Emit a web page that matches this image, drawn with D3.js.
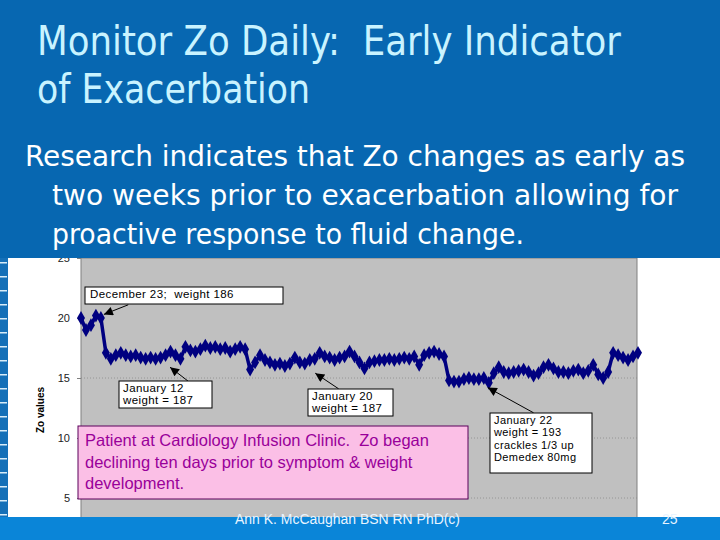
<!DOCTYPE html>
<html>
<head>
<meta charset="utf-8">
<script src="https://cdn.jsdelivr.net/npm/d3@7"></script>
<style>
  body { margin: 0; background: #fff; }
  svg { display: block; }
  text { white-space: pre; }
</style>
</head>
<body>
<svg id="chart" width="720" height="540"></svg>
<script>
// Zo readings, one per plotted sample
const zoValues = [
  20.0, 19.0, 19.4, 20.2, 20.0, 17.1, 16.6, 16.9, 17.1, 16.9,
  16.8, 16.9, 16.7, 16.6, 16.7, 16.6, 16.7, 16.9, 17.2, 16.9,
  16.6, 17.6, 17.3, 17.2, 17.4, 17.7, 17.5, 17.6, 17.4, 17.5,
  17.2, 17.4, 17.6, 17.4, 15.7, 16.3, 16.9, 16.5, 16.3, 16.1,
  16.2, 16.0, 16.2, 16.7, 16.3, 16.2, 16.5, 16.6, 17.1, 16.8,
  16.7, 16.5, 16.7, 16.8, 17.2, 16.8, 16.3, 15.8, 16.3, 16.4,
  16.5, 16.5, 16.6, 16.5, 16.6, 16.7, 16.6, 16.8, 16.1, 16.9,
  17.1, 17.2, 17.0, 16.8, 14.8, 14.7, 14.7, 14.9, 15.0, 14.9,
  14.9, 15.0, 14.6, 15.4, 15.9, 15.5, 15.4, 15.5, 15.6, 15.7,
  15.5, 15.2, 15.4, 15.9, 16.1, 15.8, 15.5, 15.5, 15.4, 15.6,
  15.7, 15.4, 15.6, 16.1, 15.3, 15.0, 15.5, 17.1, 16.9, 16.7,
  16.5, 16.8, 17.1
];
const yTicks = [5, 10, 15, 20, 25];
const gridValues = [5, 10, 15];

const titleLines = ["Monitor Zo Daily:  Early Indicator", "of Exacerbation"];
const bodyLines = [
  "Research indicates that Zo changes as early as",
  "two weeks prior to exacerbation allowing for",
  "proactive response to fluid change."
];
const noteLines = [
  "Patient at Cardiology Infusion Clinic.  Zo began",
  "declining ten days prior to symptom & weight",
  "development."
];
const calloutTexts = [
  ["December 23;  weight 186"],
  ["January 12", "weight = 187"],
  ["January 20", "weight = 187"],
  ["January 22", "weight = 193", "crackles 1/3 up", "Demedex 80mg"]
];
// arrow ends in data units: [index, Zo]
const calloutTips = [[4.6, 20.3], [17.9, 15.9], [47.1, 15.4], [81.8, 14.2]];
const calloutTails = [[9.5, 21.1], [21.5, 14.75], [51.8, 14.1], [91.0, 12.1]];

const svg = d3.select("#chart");
const plot = {left: 81, right: 637, top: 258, bottom: 540};
const font = "Arial, 'Liberation Sans', sans-serif";

const x = d3.scaleLinear().domain([0, zoValues.length - 1]).range([81, 638]);
const y = d3.scaleLinear().domain([0, 25]).range([558, 258]);

// white slide body + left film strip
svg.append("rect").attr("width", 720).attr("height", 540).attr("fill", "#fff");
svg.append("rect").attr("x", 0).attr("y", 258).attr("width", 8).attr("height", 282).attr("fill", "#1570b8");
svg.selectAll(".notch").data(d3.range(262, 520, 14)).enter().append("rect")
  .attr("x", 0).attr("y", d => d).attr("width", 7).attr("height", 1.5).attr("fill", "#d8ecf8");

// plot area
svg.append("rect")
  .attr("x", plot.left).attr("y", plot.top)
  .attr("width", plot.right - plot.left).attr("height", plot.bottom - plot.top)
  .attr("fill", "#c0c0c0").attr("stroke", "#808080").attr("stroke-width", 1);

svg.selectAll(".grid").data(gridValues).enter().append("line")
  .attr("x1", plot.left).attr("x2", plot.right)
  .attr("y1", d => y(d)).attr("y2", d => y(d))
  .attr("stroke", "#8a8a8a").attr("stroke-width", 0.8).attr("stroke-dasharray", "1,2");

const yAxis = svg.append("g")
  .attr("transform", `translate(${plot.left},0)`)
  .call(d3.axisLeft(y).tickValues(yTicks).tickSize(4).tickPadding(7));
yAxis.select(".domain").remove();
yAxis.selectAll("line").attr("stroke", "#808080");
yAxis.selectAll("text").attr("font-family", font)
  .attr("font-size", 11).attr("fill", "#222");

svg.append("text")
  .attr("transform", "translate(44,410) rotate(-90)")
  .attr("text-anchor", "middle")
  .attr("font-family", font)
  .attr("font-size", 10).attr("font-weight", "bold")
  .text("Zo values");

// data line with diamond markers
const line = d3.line().x((d, i) => x(i)).y(d => y(d));
svg.append("path").datum(zoValues)
  .attr("d", line).attr("fill", "none")
  .attr("stroke", "#000080").attr("stroke-width", 3.5)
  .attr("stroke-linejoin", "round");
svg.selectAll(".pt").data(zoValues).enter().append("path")
  .attr("d", d3.symbol().type(d3.symbolDiamond).size(55))
  .attr("transform", (d, i) => `translate(${x(i)},${y(d)})`)
  .attr("fill", "#000080");

// callout boxes
const boxes = [
  {x: 85, y: 287, w: 198, h: 17, lh: 12, fs: 11.5, pad: 5},
  {x: 119, y: 381, w: 93, h: 27, lh: 12, fs: 11.5, pad: 4},
  {x: 308, y: 389, w: 85, h: 27, lh: 12, fs: 11.5, pad: 4},
  {x: 490, y: 413, w: 102, h: 60, lh: 12.5, fs: 11, pad: 4}
];

svg.append("defs").append("marker")
  .attr("id", "arrow").attr("viewBox", "0 0 10 10")
  .attr("refX", 10).attr("refY", 5)
  .attr("markerWidth", 13).attr("markerHeight", 9)
  .attr("markerUnits", "userSpaceOnUse")
  .attr("orient", "auto")
  .append("path").attr("d", "M0,0L10,5L0,10Z").attr("fill", "#000");

calloutTexts.forEach((lines, k) => {
  const b = boxes[k];
  svg.append("line")
    .attr("x1", x(calloutTails[k][0])).attr("y1", y(calloutTails[k][1]))
    .attr("x2", x(calloutTips[k][0])).attr("y2", y(calloutTips[k][1]))
    .attr("stroke", "#000").attr("stroke-width", 1)
    .attr("marker-end", "url(#arrow)");
  svg.append("rect").attr("x", b.x).attr("y", b.y).attr("width", b.w).attr("height", b.h)
    .attr("fill", "#fff").attr("stroke", "#000").attr("stroke-width", 1);
  lines.forEach((t, j) => {
    svg.append("text")
      .attr("x", b.x + b.pad).attr("y", b.y + 10.5 + j * b.lh)
      .attr("font-family", font).attr("font-size", b.fs).attr("fill", "#000")
      .attr("letter-spacing", 0.4)
      .text(t);
  });
});

// pink note
svg.append("rect").attr("x", 78).attr("y", 426).attr("width", 390).attr("height", 73)
  .attr("fill", "#fbbfe6").attr("stroke", "#5a005a").attr("stroke-width", 1);
noteLines.forEach((t, j) => {
  svg.append("text")
    .attr("x", 85).attr("y", 446 + j * 21.5)
    .attr("font-family", font).attr("font-size", 16.5).attr("fill", "#99009a")
    .text(t);
});

// header band
svg.append("rect").attr("width", 720).attr("height", 258).attr("fill", "#0767b1");
const titleWidths = [584, 273];
titleLines.forEach((t, j) => {
  svg.append("text")
    .attr("x", 37).attr("y", 55 + j * 48)
    .attr("font-family", "'DejaVu Sans Condensed', 'DejaVu Sans', sans-serif")
    .attr("font-size", 41).attr("fill", "#c9f3ff")
    .attr("textLength", titleWidths[j]).attr("lengthAdjust", "spacingAndGlyphs")
    .text(t);
});
const bodyX = [25, 52, 52];
const bodyWidths = [660, 626, 472];
bodyLines.forEach((t, j) => {
  svg.append("text")
    .attr("x", bodyX[j]).attr("y", 166 + j * 39)
    .attr("font-family", "'DejaVu Sans Condensed', 'DejaVu Sans', sans-serif")
    .attr("font-size", 28.5).attr("fill", "#fff")
    .attr("textLength", bodyWidths[j]).attr("lengthAdjust", "spacingAndGlyphs")
    .text(t);
});

// footer band
svg.append("rect").attr("x", 0).attr("y", 517).attr("width", 720).attr("height", 23).attr("fill", "#0a85d8");
svg.append("text")
  .attr("x", 235).attr("y", 524)
  .attr("font-family", font).attr("font-size", 14).attr("fill", "#e8f4ff")
  .attr("textLength", 225).attr("lengthAdjust", "spacingAndGlyphs")
  .text("Ann K. McCaughan BSN RN PhD(c)");
svg.append("text")
  .attr("x", 662).attr("y", 524)
  .attr("font-family", font).attr("font-size", 14).attr("fill", "#e8f4ff")
  .text("25");
</script>
</body>
</html>
